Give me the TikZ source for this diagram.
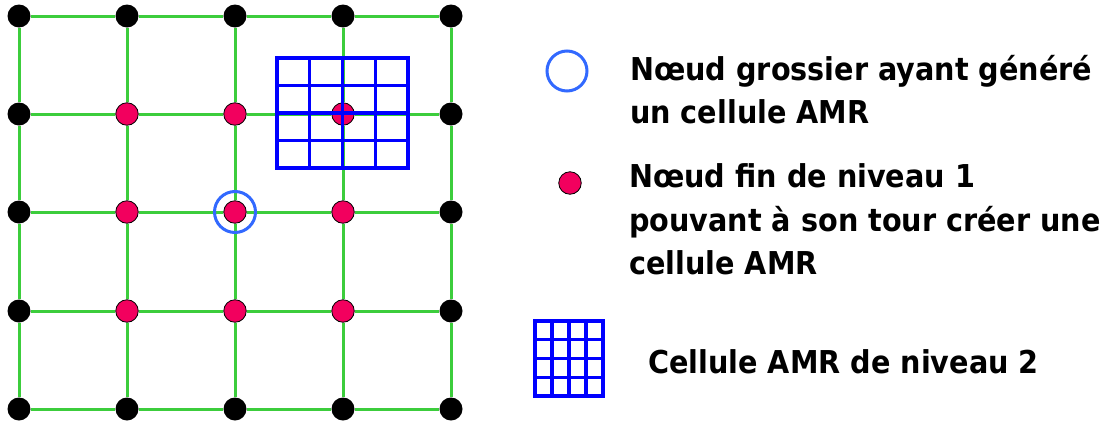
\documentclass[tikz,border=0pt]{standalone}
\usepackage{fontspec}
\newfontfamily\legendfont{DejaVu Sans}[FakeStretch=0.91]
\usetikzlibrary{backgrounds}
\definecolor{gridgreen}{RGB}{60,205,60}
\definecolor{finepink}{RGB}{242,0,94}
\definecolor{ringblue}{RGB}{50,105,255}
\definecolor{amrblue}{RGB}{0,0,255}
\tikzset{
  coarse/.style={circle,fill=black,inner sep=0pt,minimum size=23pt},
  fine/.style={circle,fill=finepink,draw=black,line width=0.8pt,inner sep=0pt,minimum size=22.5pt},
  link/.style={draw=gridgreen,line width=3pt},
  ring/.style={circle,draw=ringblue,line width=3pt,inner sep=0pt,minimum size=41pt},
  amr/.style={draw=amrblue,line width=3.3pt,line cap=rect},
  legend/.style={anchor=base west,align=left,inner sep=0pt,font=\legendfont\bfseries\fontsize{31.5}{43.5}\selectfont},
  pics/amrgrid/.style={code={
    \draw[amr] (0,0) rectangle (4,4);
    \foreach \k in {1,2,3}{\draw[amr] (\k,0) -- (\k,4); \draw[amr] (0,\k) -- (4,\k);}
  }}
}
\begin{document}
\begin{tikzpicture}[x=1pt,y=-1pt]
\useasboundingbox (0,0) rectangle (1104,426);
% nodes of the coarse grid
\foreach \i/\x in {0/19,1/127,2/235,3/343,4/451}{
  \foreach \j/\y in {0/16,1/114,2/212,3/311,4/409}{
    \pgfmathtruncatemacro\isfine{(\i>0)*(\i<4)*(\j>0)*(\j<4)}
    \ifnum\isfine=1
      \node[fine] (n\i\j) at (\x,\y) {};
    \else
      \node[coarse] (n\i\j) at (\x,\y) {};
    \fi
  }
}
% green links
\begin{scope}[on background layer]
\foreach \i in {0,...,4}{
  \foreach \j [evaluate=\j as \k using int(\j+1)] in {0,...,3}{
    \draw[link] (n\i\j) -- (n\i\k);
    \draw[link] (n\j\i) -- (n\k\i);
  }
}
\end{scope}
% AMR cell over the grid
\begin{scope}[shift={(277,58)},x=32.75pt,y=-27.5pt]
  \pic {amrgrid};
\end{scope}
% coarse node having generated an AMR cell
\node[ring] (ring) at (n22) {};
% legend
\node[ring,minimum size=40pt] (legring) at (567,71) {};
\node[fine] (legdot) at (570,183) {};
\begin{scope}[shift={(535,321)},x=17pt,y=-18.75pt]
  \pic {amrgrid};
\end{scope}
% base anchor of a multi-line node lies on its last line
\node[legend] (t1) at (630,123.5) {Nœud grossier ayant généré\\un cellule AMR};
\node[legend] (t2) at (629,274.5) {Nœud fin de niveau 1\\pouvant à son tour créer une\\cellule AMR};
\node[legend] (t3) at (648,373) {Cellule AMR de niveau 2};
\end{tikzpicture}
\end{document}
